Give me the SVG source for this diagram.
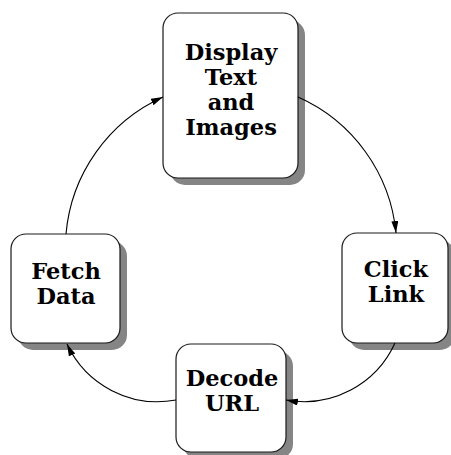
<svg xmlns="http://www.w3.org/2000/svg" width="451" height="455" viewBox="0 0 451 455">
  <style>
    .shadow { fill: #858585; }
    .box { fill: #ffffff; stroke: #1a1a1a; stroke-width: 1.2; }
    .label { font-family: "DejaVu Serif", "Liberation Serif", serif; font-weight: bold; font-size: 22.5px; fill: #000; text-anchor: middle; }
    .edge { fill: none; stroke: #000; stroke-width: 1.1; marker-end: url(#arrow); }
  </style>
  <defs>
    <marker id="arrow" markerUnits="userSpaceOnUse" markerWidth="13" markerHeight="8" refX="12" refY="3.5" orient="auto">
      <path d="M0,0 L12,3.5 L0,7 z" fill="#000"/>
    </marker>
  </defs>
  <rect width="451" height="455" fill="#ffffff"/>

  <g id="display">
    <rect class="shadow" x="170" y="20" width="135" height="165" rx="15"/>
    <rect class="box" x="163" y="13" width="135" height="165" rx="15"/>
    <text class="label" x="231" y="60">Display</text>
    <text class="label" x="231" y="85">Text</text>
    <text class="label" x="231" y="110">and</text>
    <text class="label" x="231" y="135">Images</text>
  </g>

  <g id="click">
    <rect class="shadow" x="349" y="240" width="106" height="110" rx="15"/>
    <rect class="box" x="342" y="233" width="106" height="110" rx="15"/>
    <text class="label" x="396" y="277">Click</text>
    <text class="label" x="396" y="302">Link</text>
  </g>

  <g id="decode">
    <rect class="shadow" x="183" y="351" width="110" height="108" rx="15"/>
    <rect class="box" x="176" y="344" width="110" height="108" rx="15"/>
    <text class="label" x="232" y="386">Decode</text>
    <text class="label" x="232" y="411">URL</text>
  </g>

  <g id="fetch">
    <rect class="shadow" x="18" y="241" width="109" height="109" rx="15"/>
    <rect class="box" x="11" y="234" width="109" height="109" rx="15"/>
    <text class="label" x="66" y="279">Fetch</text>
    <text class="label" x="66" y="304">Data</text>
  </g>

  <g id="connectors">
    <path class="edge" d="M66,234 A166,166 0 0,1 163,97"/>
    <path class="edge" d="M298,97 A166,166 0 0,1 396,233"/>
    <path class="edge" d="M395,343 A100,100 0 0,1 286,400"/>
    <path class="edge" d="M176,400 A100,100 0 0,1 67,344"/>
  </g>
</svg>
